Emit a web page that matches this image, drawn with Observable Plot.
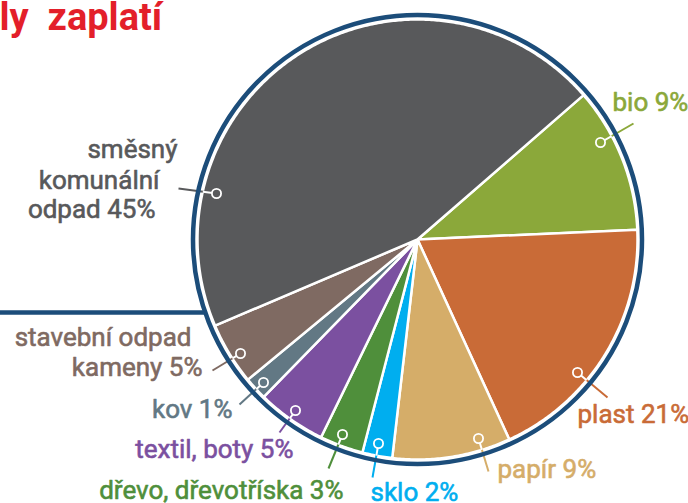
<!DOCTYPE html>
<html><head><meta charset="utf-8">
<script src="https://cdn.jsdelivr.net/npm/d3@7"></script>
<script src="https://cdn.jsdelivr.net/npm/@observablehq/plot@0.6"></script>
<style>
body{margin:0;background:#fff}
#chart{width:688px;height:503px;overflow:hidden;position:relative}
#chart svg{display:block}
</style>
</head><body><div id="chart"></div>
<script>
// ---- data ----
const categories = ["bio", "plast", "papír", "sklo", "dřevo", "textil", "kov", "stavební", "směsný"];
const values = [10.7, 18.9, 8.7, 2.2, 3.2, 5.1, 1.7, 4.6, 45.1];
const labelLines = [
  ["bio 9%"],
  ["plast 21%"],
  ["papír 9%"],
  ["sklo 2%"],
  ["dřevo, dřevotříska 3%"],
  ["textil, boty 5%"],
  ["kov 1%"],
  ["stavební odpad", "kameny 5%"],
  ["směsný", "komunální", "odpad 45%"]
];
const colors = ["#8ba83a", "#c96b37", "#d5ad69", "#00aeef", "#4f8f3b", "#7b50a0", "#627884", "#7f6a62", "#58595b"];
const titleText = "ly\u00a0\u00a0zaplatí";

// ---- layout (offsets from pie centre, y up) ----
const W = 688, H = 503, CX = 417, CY = 239, R = 220, RING = 224.5;
const startDeg = 49;
const dotPos = [[183, 97], [160, -133], [61, -199], [-39, -204], [-75, -195], [-122, -171], [-154, -143], [-177, -114], [-201, 46]];
const endPos = [[216, 116], [190, -158], [71, -232], [-45, -238], [-89, -229], [-138, -193], [-178, -165], [-205, -131], [-239, 51]];
const textPos = [
  [["start", 195, 129]],
  [["start", 160, -183]],
  [["start", 80, -238]],
  [["start", -47, -261]],
  [["end", -74, -259]],
  [["end", -124, -218]],
  [["end", -185, -178]],
  [["end", -226, -106], ["end", -215, -136]],
  [["end", -240, 82], ["end", -258, 51], ["end", -262, 22]]
];

// ---- slices from values ----
const pie = d3.pie().sort(null).value(d => d)
  .startAngle(startDeg * Math.PI / 180).endAngle(startDeg * Math.PI / 180 + 2 * Math.PI);
const arcs = pie(values);
const slicePts = [];
arcs.forEach((a, i) => {
  const key = categories[i];
  slicePts.push({key, x: 0, y: 0});
  const n = Math.max(2, Math.ceil((a.endAngle - a.startAngle) / (Math.PI / 360)));
  for (let k = 0; k <= n; k++) {
    const t = a.startAngle + (a.endAngle - a.startAngle) * k / n;
    slicePts.push({key, x: R * Math.sin(t), y: R * Math.cos(t)});
  }
  slicePts.push({key, x: 0, y: 0});
});

// leaders
const leaders = categories.map((key, i) => {
  const [x1, y1] = dotPos[i], [x2, y2] = endPos[i];
  const dx = x2 - x1, dy = y2 - y1;
  const A = dx * dx + dy * dy, B = 2 * (x1 * dx + y1 * dy), C = x1 * x1 + y1 * y1 - R * R;
  const t = (-B + Math.sqrt(B * B - 4 * A * C)) / (2 * A);
  return {key, x1, y1, x2, y2, xe: x1 + dx * t, ye: y1 + dy * t};
});

const texts = [];
categories.forEach((key, i) => {
  labelLines[i].forEach((line, j) => {
    const [anchor, x, y] = textPos[i][j];
    texts.push({key, text: line, anchor, x, y});
  });
});

const ruleY = 239 - 312;
const font = "Roboto, 'DejaVu Sans', sans-serif";
const labelStyle = {x: "x", y: "y", text: "text", fill: "key", stroke: "key", strokeWidth: 0.6, lineAnchor: "bottom", fontSize: 26, fontWeight: 400, letterSpacing: 0.3};

const plot = Plot.plot({
  width: W, height: H,
  margin: 0,
  x: {domain: [-CX, W - CX], range: [0, W], axis: null},
  y: {domain: [CY - H, CY], range: [H, 0], axis: null},
  color: {domain: categories, range: colors},
  style: {fontFamily: font, background: "#fff"},
  marks: [
    Plot.line(slicePts, {x: "x", y: "y", z: "key", fill: "key", stroke: "#fff", strokeWidth: 2.5, strokeLinejoin: "round"}),
    Plot.link(leaders, {x1: "x1", y1: "y1", x2: "x2", y2: "y2", stroke: "key", strokeWidth: 2}),
    Plot.link(leaders, {x1: "x1", y1: "y1", x2: "xe", y2: "ye", stroke: "#fff", strokeWidth: 2}),
    Plot.dot(leaders, {x: "x1", y: "y1", r: 4.6, fill: "key", stroke: "#fff", strokeWidth: 1.8}),
    Plot.dot([0], {x: 0, y: 0, r: RING, fill: "none", stroke: "#1c4d7a", strokeWidth: 4.5}),
    Plot.ruleY([ruleY], {x1: -CX, x2: -Math.sqrt(RING * RING - ruleY * ruleY), stroke: "#1c4d7a", strokeWidth: 4.5}),
    Plot.text(texts.filter(d => d.anchor === "end"), {...labelStyle, textAnchor: "end"}),
    Plot.text(texts.filter(d => d.anchor === "start"), {...labelStyle, textAnchor: "start"}),
    Plot.text([titleText], {x: -CX, y: CY - 29.5, text: d => d, fill: "#e31f2a", textAnchor: "start", lineAnchor: "bottom", fontSize: 38, fontWeight: "bold", letterSpacing: 0.5, dx: -1})
  ]
});
document.getElementById("chart").appendChild(plot);
</script>
</body></html>
